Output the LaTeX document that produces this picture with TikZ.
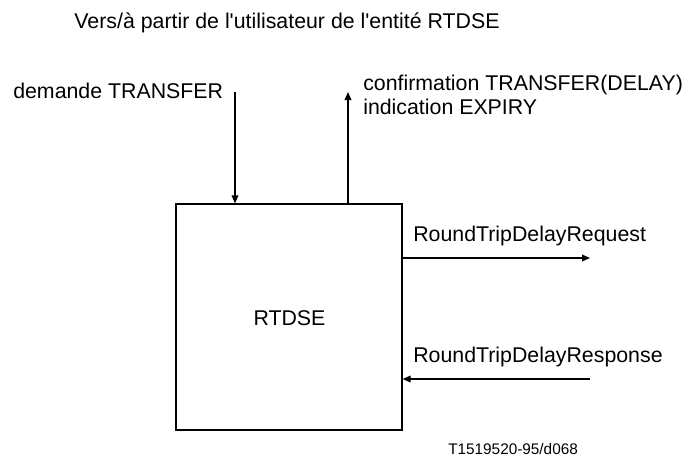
\documentclass[tikz,border=0pt]{standalone}
\usepackage{fontspec}
\setmainfont{Liberation Sans}
\usepackage{tikz}
\usetikzlibrary{arrows.meta, positioning}

\begin{document}
\begin{tikzpicture}[
    x=0.75pt, y=-0.75pt,
    every node/.style={font=\fontsize{16}{17.5}\selectfont, inner sep=0pt},
    entity/.style={rectangle, draw, line width=0.9pt, minimum width=169.5pt, minimum height=169.5pt},
    label/.style={anchor=base west, align=left},
    arrow/.style={line width=0.9pt, -{Triangle[length=6pt, width=5pt]}}
  ]
  \useasboundingbox (0,0) rectangle (686,457);

  \node[anchor=base] (title) at (287,28) {Vers/à partir de l\textquotesingle utilisateur de l\textquotesingle entité RTDSE};
  \node[entity] (rtdse) at (289,317) {};
  \node[anchor=base] (name) at (289.5,325) {RTDSE};

  \node[label] (req) at (13,98) {demande TRANSFER};
  \node[label] (conf) at (363,114) {confirmation TRANSFER(DELAY)\\indication EXPIRY};
  \node[label] (rtreq) at (413,241) {RoundTripDelayRequest};
  \node[label] (rtresp) at (413,362) {RoundTripDelayResponse};
  \node[label, font=\fontsize{11.5}{13}\selectfont] (ref) at (448,454) {T1519520-95/d068};

  \coordinate (reqin) at (235,92);
  \coordinate (confout) at (348,92);
  \coordinate (rtreqout) at (590,258);
  \coordinate (rtrespin) at (590,379);

  \draw[arrow] (reqin) -- (reqin |- rtdse.north);
  \draw[arrow] (confout |- rtdse.north) -- (confout);
  \draw[arrow] (rtreqout -| rtdse.east) -- (rtreqout);
  \draw[arrow] (rtrespin) -- (rtrespin -| rtdse.east);

\end{tikzpicture}
\end{document}
